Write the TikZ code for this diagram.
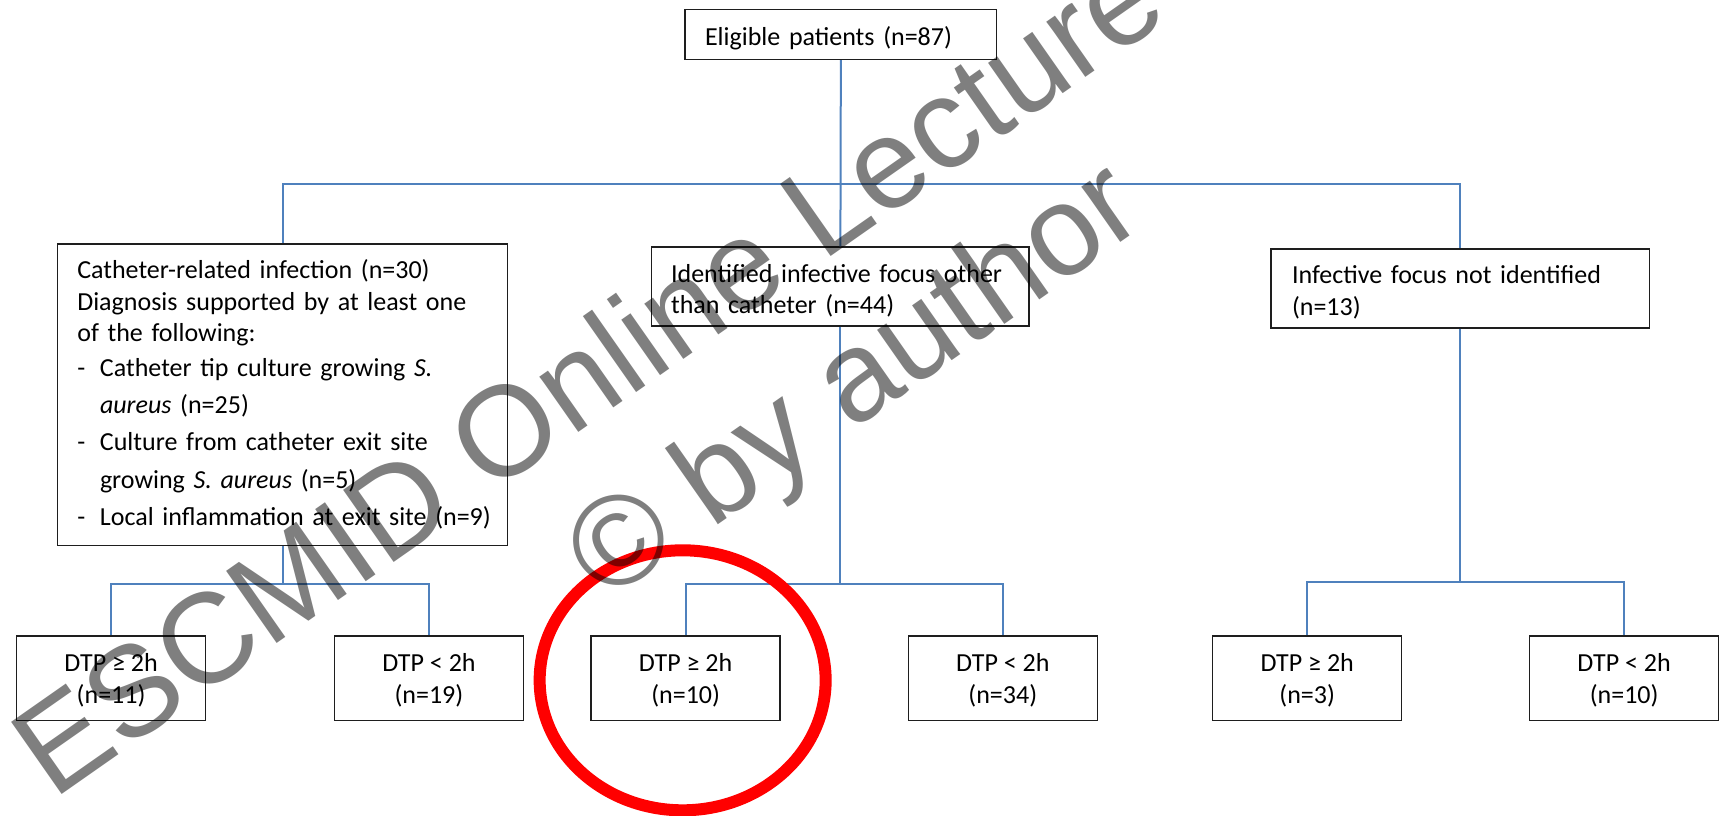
\documentclass[tikz,border=0pt]{standalone}
\usepackage{fontspec}
\setmainfont{Carlito}
\newfontfamily\wmfont{Liberation Sans}
\usetikzlibrary{calc}
\definecolor{connblue}{RGB}{79,129,189}
\definecolor{boxline}{RGB}{30,30,30}
\newcommand\tstr{\rule{0pt}{30pt}}
\newcommand\bstr[1]{\rule[-#1pt]{0pt}{#1pt}}
\begin{document}
\begin{tikzpicture}[x=1pt,y=-1pt,
  box/.style={draw=boxline, line width=1.4pt, rectangle, inner sep=0pt,
    font=\fontsize{26}{31.8}\selectfont},
  dtpbox/.style={box, minimum width=189pt, minimum height=84.5pt, align=center},
  conn/.style={draw=connblue, line width=2pt},
  redring/.style={draw=red, line width=12pt},
  wm/.style={font=\wmfont\fontsize{128}{150}\selectfont, text=black, text opacity=0.5,
    inner sep=0pt, rotate=35, anchor=base west}
]
\useasboundingbox (0,0) rectangle (1723,815);

% level 0
\node[box, minimum width=311.7pt, minimum height=50pt, text width=271.7pt,
  align=left, inner xsep=20pt] (top) at (840.85,34.3)
  {\tstr Eligible patients (n=87)\bstr{8.6}};

% level 1
\node[box, minimum width=450.4pt, minimum height=301.7pt, text width=410.4pt,
  align=left, inner xsep=20pt] (cath) at (282.5,394.85)
  {\mbox{\tstr Catheter-related infection (n=30)}\\
   \mbox{Diagnosis supported by at least one}\\
   \mbox{of the following:}\\[3pt]
   \mbox{\makebox[22.7pt][l]{-}Catheter tip culture growing \textit{S.}}\\[5.3pt]
   \mbox{\hspace*{22.7pt}\textit{aureus} (n=25)}\\[5.3pt]
   \mbox{\makebox[22.7pt][l]{-}Culture from catheter exit site}\\[5.3pt]
   \mbox{\hspace*{22.7pt}growing \textit{S. aureus} (n=5)}\\[5.3pt]
   \mbox{\makebox[22.7pt][l]{-}Local inflammation at exit site (n=9)\bstr{16.3}}};

\node[box, minimum width=377.3pt, minimum height=79pt, text width=338.7pt,
  align=left, inner xsep=19.3pt] (mid) at (840.4,286.5)
  {\mbox{\tstr Identified infective focus other}\\\mbox{than catheter (n=44)\bstr{7.2}}};

\node[box, minimum width=378.7pt, minimum height=79pt, text width=336.7pt,
  align=left, inner xsep=21pt] (nf) at (1460.35,288.5)
  {\mbox{\tstr Infective focus not identified}\\\mbox{(n=13)\bstr{8.2}}};

% level 2
\node[dtpbox] (b1) at (111.1,678.3) {\tstr DTP ≥ 2h\\(n=11)\bstr{11.4}};
\node[dtpbox] (b2) at (428.95,678.3) {\tstr DTP < 2h\\(n=19)\bstr{11.4}};
\node[dtpbox] (b3) at (685.65,678.3) {\tstr DTP ≥ 2h\\(n=10)\bstr{11.4}};
\node[dtpbox] (b4) at (1002.8,678.3) {\tstr DTP < 2h\\(n=34)\bstr{11.4}};
\node[dtpbox] (b5) at (1307.2,678.3) {\tstr DTP ≥ 2h\\(n=3)\bstr{11.4}};
\node[dtpbox] (b6) at (1624.15,678.3) {\tstr DTP < 2h\\(n=10)\bstr{11.4}};

% connectors
\coordinate (busTop) at (0,184);
\coordinate (busL) at (0,584);
\coordinate (busR) at (0,582);
\draw[conn] (top.south) -- (mid.north);
\draw[conn] (cath.north) |- (nf.north |- busTop) -- (nf.north);
\draw[conn] (cath.south) -- (cath.south |- busL);
\draw[conn] (b1.north) |- (b2.north |- busL) -- (b2.north);
\draw[conn] (mid.south) -- (mid.south |- busL);
\draw[conn] (b3.north) |- (b4.north |- busL) -- (b4.north);
\draw[conn] (nf.south) -- (nf.south |- busR);
\draw[conn] (b5.north) |- (b6.north |- busR) -- (b6.north);

% red highlight
\draw[redring] ($(b3.center)+(-3,2)$) ellipse [x radius=143pt, y radius=130pt];

% watermark
\node[wm] (wm1) at (53,801) {ESCMID Online Lecture};
\node[wm] (wm2) at (605,604) {© by author};
\end{tikzpicture}
\end{document}
